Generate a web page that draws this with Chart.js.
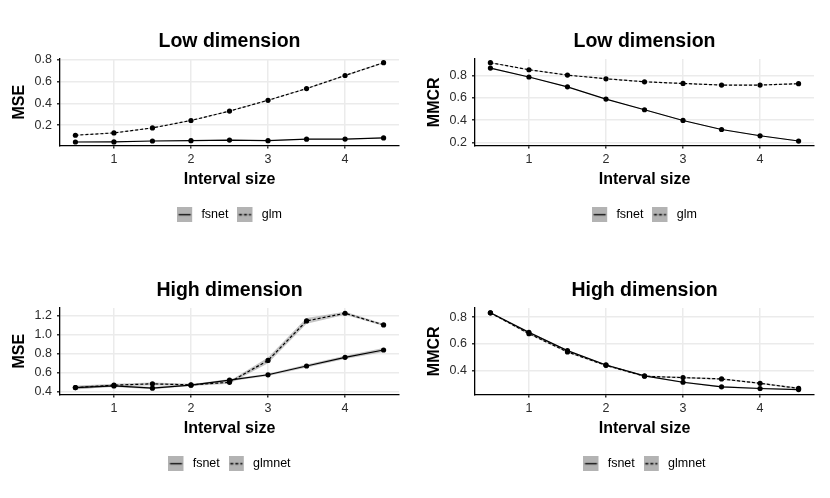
<!DOCTYPE html>
<html>
<head>
<meta charset="utf-8">
<script src="https://cdn.jsdelivr.net/npm/chart.js@4.4.1/dist/chart.umd.min.js"></script>
<style>
  html, body { margin: 0; padding: 0; background: #fff; }
  #grid { display: grid; grid-template-columns: 415px 415px; grid-template-rows: 249px 249px; width: 830px; height: 498px; }
  .cell { width: 415px; height: 249px; }
</style>
</head>
<body>
<div id="grid">
  <div class="cell"><canvas id="lowMse" width="415" height="249"></canvas></div>
  <div class="cell"><canvas id="lowMmcr" width="415" height="249"></canvas></div>
  <div class="cell"><canvas id="highMse" width="415" height="249"></canvas></div>
  <div class="cell"><canvas id="highMmcr" width="415" height="249"></canvas></div>
</div>
<script>
// x positions (interval size) and axis ticks
const intervalSizes = [0.5, 1, 1.5, 2, 2.5, 3, 3.5, 4, 4.5];
const xTicks = [1, 2, 3, 4];

// Low dimension - MSE
const lowMseFsnet = [0.046, 0.047, 0.055, 0.058, 0.064, 0.058, 0.072, 0.073, 0.083];
const lowMseGlm = [0.108, 0.129, 0.175, 0.243, 0.329, 0.428, 0.535, 0.655, 0.772];
const lowMseFsnetBand = [0.003, 0.003, 0.003, 0.003, 0.003, 0.003, 0.003, 0.003, 0.004];
const lowMseGlmBand = [0.003, 0.003, 0.004, 0.004, 0.005, 0.005, 0.006, 0.006, 0.007];
const lowMseTicks = [0.2, 0.4, 0.6, 0.8];

// Low dimension - MMCR
const lowMmcrFsnet = [0.866, 0.786, 0.698, 0.588, 0.493, 0.397, 0.316, 0.260, 0.213];
const lowMmcrGlm = [0.914, 0.851, 0.803, 0.770, 0.743, 0.728, 0.714, 0.714, 0.726];
const lowMmcrFsnetBand = [0.004, 0.004, 0.004, 0.004, 0.004, 0.004, 0.004, 0.004, 0.004];
const lowMmcrGlmBand = [0.004, 0.004, 0.004, 0.004, 0.004, 0.004, 0.004, 0.004, 0.004];
const lowMmcrTicks = [0.2, 0.4, 0.6, 0.8];

// High dimension - MSE
const highMseFsnet = [0.445, 0.462, 0.438, 0.470, 0.522, 0.579, 0.671, 0.762, 0.839];
const highMseGlmnet = [0.445, 0.470, 0.484, 0.473, 0.500, 0.730, 1.144, 1.225, 1.102];
const highMseFsnetBand = [0.015, 0.012, 0.012, 0.010, 0.012, 0.012, 0.015, 0.018, 0.020];
const highMseGlmnetBand = [0.020, 0.015, 0.015, 0.012, 0.015, 0.030, 0.030, 0.015, 0.012];
const highMseTicks = [0.4, 0.6, 0.8, 1.0, 1.2];

// High dimension - MMCR
const highMmcrFsnet = [0.832, 0.685, 0.548, 0.440, 0.358, 0.310, 0.276, 0.263, 0.255];
const highMmcrGlmnet = [0.832, 0.675, 0.538, 0.437, 0.355, 0.345, 0.335, 0.302, 0.264];
const highMmcrFsnetBand = [0.005, 0.005, 0.005, 0.005, 0.005, 0.005, 0.005, 0.005, 0.005];
const highMmcrGlmnetBand = [0.006, 0.006, 0.006, 0.006, 0.006, 0.006, 0.006, 0.006, 0.006];
const highMmcrTicks = [0.4, 0.6, 0.8];

Chart.defaults.font.family = "'Liberation Sans', Arial, Helvetica, sans-serif";
Chart.defaults.animation = false;

const BAND_FILL = "rgba(150, 150, 150, 0.55)";
const KEY_FILL = "#b3b3b3";
const DASH = [3, 2];

// legend key: grey square with a line sample
function legendKey(dashed) {
  const c = document.createElement("canvas");
  c.width = 18;
  c.height = 15;
  const ctx = c.getContext("2d");
  ctx.fillStyle = KEY_FILL;
  ctx.fillRect(0, 0, 15, 15);
  ctx.strokeStyle = "#000";
  ctx.lineWidth = 1.3;
  if (dashed) ctx.setLineDash(DASH);
  ctx.beginPath();
  ctx.moveTo(1.5, 7.5);
  ctx.lineTo(13.5, 7.5);
  ctx.stroke();
  return c;
}
const solidKey = legendKey(false);
const dashedKey = legendKey(true);

const points = values => intervalSizes.map((x, i) => ({ x, y: values[i] }));
const shifted = (values, band, sign) =>
  intervalSizes.map((x, i) => ({ x, y: values[i] + sign * band[i] }));

function lineSet(label, values, dashed) {
  return {
    label,
    data: points(values),
    borderColor: "#000",
    borderWidth: 1.2,
    borderDash: dashed ? DASH : [],
    pointRadius: 2.6,
    pointBackgroundColor: "#000",
    pointBorderWidth: 0,
    tension: 0,
    fill: false,
  };
}

function bandSets(values, band) {
  return [
    {
      label: "band",
      data: shifted(values, band, -1),
      borderColor: "rgba(0,0,0,0)",
      pointRadius: 0,
      fill: false,
    },
    {
      label: "band",
      data: shifted(values, band, 1),
      borderColor: "rgba(0,0,0,0)",
      backgroundColor: BAND_FILL,
      pointRadius: 0,
      fill: "-1",
    },
  ];
}

function makeChart(id, { title, yLabel, yMin, yMax, yTicks, names, a, b, aBand, bBand }) {
  new Chart(document.getElementById(id), {
    type: "line",
    data: {
      datasets: [
        lineSet(names[0], a, false),
        lineSet(names[1], b, true),
        ...bandSets(a, aBand),
        ...bandSets(b, bBand),
      ],
    },
    options: {
      responsive: false,
      layout: { padding: { left: 7, right: 16, top: 0, bottom: 18 } },
      plugins: {
        tooltip: { enabled: false },
        title: {
          display: true,
          text: title,
          fullSize: false,
          color: "#000",
          font: { size: 19.5, weight: "bold" },
          padding: { top: 30.3, bottom: 5.3 },
        },
        legend: {
          position: "bottom",
          fullSize: false,
          labels: {
            usePointStyle: true,
            pointStyleWidth: 18,
            padding: 9,
            color: "#000",
            font: { size: 12.5 },
            generateLabels: () => [
              { text: names[0], pointStyle: solidKey, fontColor: "#000", datasetIndex: 0, lineWidth: 0 },
              { text: names[1], pointStyle: dashedKey, fontColor: "#000", datasetIndex: 1, lineWidth: 0 },
            ],
          },
        },
      },
      scales: {
        x: {
          type: "linear",
          min: 0.3,
          max: 4.7,
          afterBuildTicks: s => { s.ticks = xTicks.map(v => ({ value: v })); },
          afterFit: s => { s.height = 54; },
          grid: { color: "#ebebeb", lineWidth: 1.5, tickColor: "#333", tickLength: 3 },
          border: { display: true, color: "#000", width: 1.3 },
          ticks: { color: "#2b2b2b", font: { size: 12.5 }, padding: 4, callback: v => String(v) },
          title: {
            display: true,
            text: "Interval size",
            color: "#000",
            font: { size: 16, weight: "bold" },
            padding: { top: 3, bottom: 10.4 },
          },
        },
        y: {
          type: "linear",
          min: yMin,
          max: yMax,
          afterBuildTicks: s => { s.ticks = yTicks.map(v => ({ value: v })); },
          afterFit: s => { s.width = 53; },
          grid: { color: "#ebebeb", lineWidth: 1.5, tickColor: "#333", tickLength: 3 },
          border: { display: true, color: "#000", width: 1.3 },
          ticks: { color: "#2b2b2b", font: { size: 12.5 }, padding: 5, callback: v => v.toFixed(1) },
          title: {
            display: true,
            text: yLabel,
            color: "#000",
            font: { size: 16, weight: "bold" },
            padding: { top: 3, bottom: 2 },
          },
        },
      },
    },
  });
}

makeChart("lowMse", {
  title: "Low dimension", yLabel: "MSE", yMin: 0.014, yMax: 0.806, yTicks: lowMseTicks,
  names: ["fsnet", "glm"], a: lowMseFsnet, b: lowMseGlm, aBand: lowMseFsnetBand, bBand: lowMseGlmBand,
});
makeChart("lowMmcr", {
  title: "Low dimension", yLabel: "MMCR", yMin: 0.173, yMax: 0.947, yTicks: lowMmcrTicks,
  names: ["fsnet", "glm"], a: lowMmcrFsnet, b: lowMmcrGlm, aBand: lowMmcrFsnetBand, bBand: lowMmcrGlmBand,
});
makeChart("highMse", {
  title: "High dimension", yLabel: "MSE", yMin: 0.372, yMax: 1.28, yTicks: highMseTicks,
  names: ["fsnet", "glmnet"], a: highMseFsnet, b: highMseGlmnet, aBand: highMseFsnetBand, bBand: highMseGlmnetBand,
});
makeChart("highMmcr", {
  title: "High dimension", yLabel: "MMCR", yMin: 0.218, yMax: 0.868, yTicks: highMmcrTicks,
  names: ["fsnet", "glmnet"], a: highMmcrFsnet, b: highMmcrGlmnet, aBand: highMmcrFsnetBand, bBand: highMmcrGlmnetBand,
});
</script>
</body>
</html>
